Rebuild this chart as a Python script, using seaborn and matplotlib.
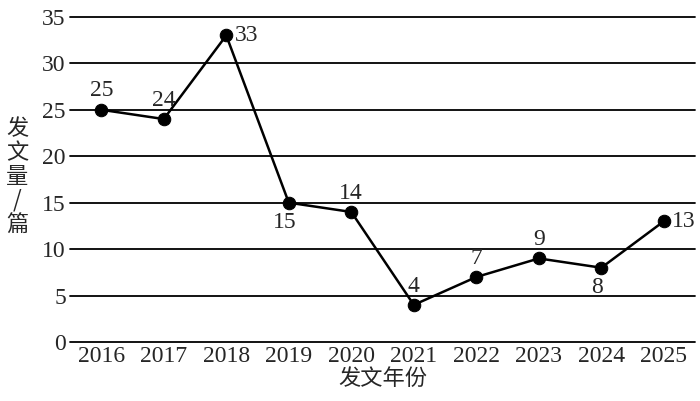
import seaborn as sns
import matplotlib.pyplot as plt
import pandas as pd

years = [2016, 2017, 2018, 2019, 2020, 2021, 2022, 2023, 2024, 2025]
counts = [25, 24, 33, 15, 14, 4, 7, 9, 8, 13]
# where each value label sits relative to its point
label_pos = ['above', 'above', 'right', 'below', 'above', 'above', 'above', 'above', 'below', 'right']

df = pd.DataFrame({'year': years, 'count': counts})

sns.set_style('white')
plt.rcParams['font.family'] = ['Liberation Serif', 'Noto Sans CJK SC', 'DejaVu Sans']

fig = plt.figure(figsize=(7, 4.01), dpi=100)
ax = fig.add_axes([0.1, 0.147, 0.893, 0.811])

for y in range(0, 36, 5):
    ax.axhline(y, color='black', lw=1.3, zorder=0, clip_on=False)

sns.lineplot(data=df, x='year', y='count', ax=ax, color='black', lw=1.8,
             marker='o', markersize=9, markeredgecolor='black', clip_on=False)

offsets = {'above': (0, 6, 'center', 'bottom'),
           'below': (-3, -7, 'center', 'top'),
           'right': (6, 0, 'left', 'center')}
for x, y, p in zip(years, counts, label_pos):
    dx, dy, ha, va = offsets[p]
    ax.annotate(str(y), (x, y), xytext=(dx, dy), textcoords='offset points',
                ha=ha, va=va, fontsize=17)

ax.set_xlim(2015.5, 2025.5)
ax.set_ylim(0, 35)
ax.set_xticks(years)
ax.set_yticks(range(0, 36, 5))
ax.tick_params(axis='both', length=0, labelsize=17, pad=3)
for s in ax.spines.values():
    s.set_visible(False)

ax.set_xlabel('发文年份', fontsize=16, family=['Noto Sans CJK SC'], labelpad=0)
ax.set_ylabel('')
fig.text(0.025, 0.56, '发\n文\n量\n/\n篇', fontsize=16, family=['Noto Sans CJK SC'],
         ha='center', va='center', linespacing=1.05)

fig.savefig('out.png', dpi=100)
